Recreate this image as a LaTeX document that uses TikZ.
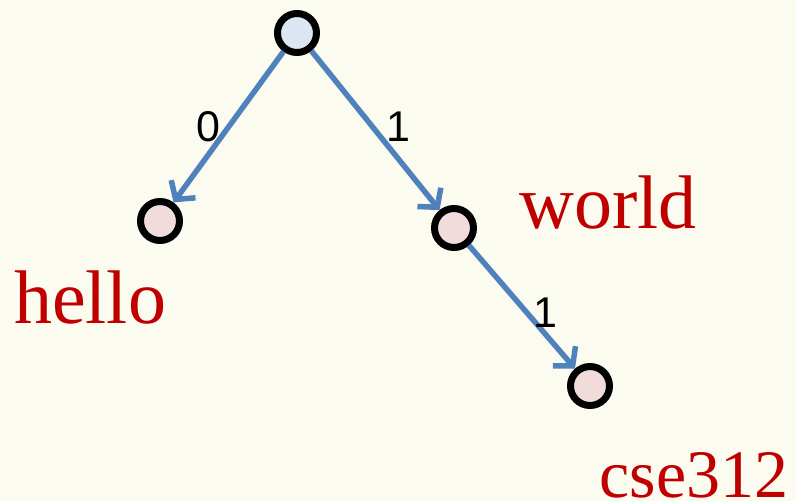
\documentclass[tikz,border=0pt]{standalone}
\usepackage{fontspec}
\setmainfont{Liberation Serif}
\newfontfamily\lblfont{Liberation Sans}
\usetikzlibrary{arrows.meta,shadows}
\definecolor{bgc}{HTML}{FBFBF0}
\definecolor{rootfill}{HTML}{DCE6F2}
\definecolor{leaffill}{HTML}{F2DCDB}
\definecolor{edgeblue}{HTML}{4F81BD}
\definecolor{wordred}{HTML}{C00000}
\tikzset{
  vtx/.style={circle, draw=black, line width=7pt, minimum size=39pt, inner sep=0pt,
    drop shadow={opacity=0.18, shadow xshift=1pt, shadow yshift=-3pt}},
  rootvtx/.style={vtx, fill=rootfill},
  leafvtx/.style={vtx, fill=leaffill},
  edge/.style={draw=edgeblue, line width=5.5pt,
    -{Straight Barb[length=13pt,width=30pt,line width=5.5pt]}},
  elabel/.style={font=\lblfont\fontsize{43}{46}\selectfont, text=black, inner sep=0pt},
  word/.style={font=\fontsize{76}{80}\selectfont, text=wordred, inner sep=0pt, anchor=base}
}
\begin{document}
\begin{tikzpicture}[x=1pt,y=-1pt]
\fill[bgc] (0,0) rectangle (796,501);
\useasboundingbox (0,0) rectangle (796,501);
\node[rootvtx] (r) at (297,33) {};
\node[leafvtx] (a) at (160,221) {};
\node[leafvtx] (b) at (454,228) {};
\node[leafvtx] (c) at (590,386) {};
\draw[edge] (r) -- (a);
\draw[edge] (r) -- (b);
\draw[edge] (b) -- (c);
\node[elabel] (l0) at (208,127) {0};
\node[elabel] (l1) at (398,127) {1};
\node[elabel] (l2) at (545,313) {1};
\node[word] (wh) at (90,323) {hello};
\node[word] (ww) at (608,228) {world};
\node[word, font=\fontsize{68}{72}\selectfont] (wc) at (694,497) {cse312};
\end{tikzpicture}
\end{document}
